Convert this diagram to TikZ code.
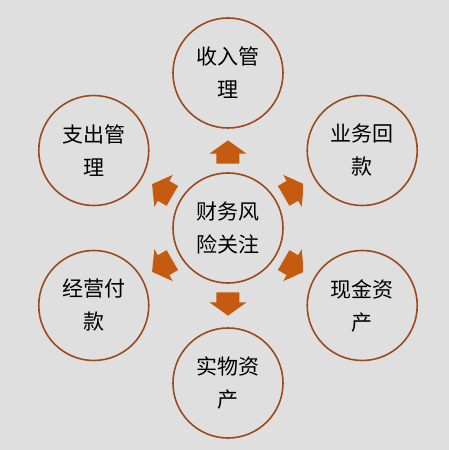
\documentclass[tikz,border=0pt]{standalone}
\usepackage{fontspec}
\setmainfont{Noto Sans CJK SC}
\usetikzlibrary{calc}
\definecolor{bgGray}{HTML}{DFDFDF}
\definecolor{ringBrown}{HTML}{9B4A1C}
\definecolor{arrowOrange}{HTML}{C55A11}
\begin{document}
\begin{tikzpicture}[x=1pt,y=1pt,line join=round,font=\fontsize{21}{33}\selectfont,
	ring/.style={circle,draw=ringBrown,line width=1.6pt,minimum size=110pt,inner sep=0pt,align=center}]
	\def\R{155}
	\fill[bgGray] (-228,-222) rectangle (221,228);
	\useasboundingbox (-228,-222) rectangle (221,228);
	\node[ring] (C) at (0,0) {财务风\\险关注};
	\foreach \i/\a/\t in {1/90/收入管\\理,2/30/业务回\\款,3/-30/现金资\\产,4/-90/实物资\\产,5/-150/经营付\\款,6/150/支出管\\理}{
		\node[ring] (B\i) at (\a:\R) {\t};
	}
	\begin{scope}
		\clip (-76,-200) rectangle (75,200);
		\foreach \i/\a in {1/90,2/30,3/-30,4/-90,5/-150,6/150}{
			\fill[arrowOrange,shift={($(C)!.49!(B\i)$)},rotate=\a] (-11.7,-11.5) -- (-1.6,-11.5) -- (-1.6,-18.5) -- (11.7,0) -- (-1.6,18.5) -- (-1.6,11.5) -- (-11.7,11.5) -- cycle;
		}
	\end{scope}
\end{tikzpicture}
\end{document}
